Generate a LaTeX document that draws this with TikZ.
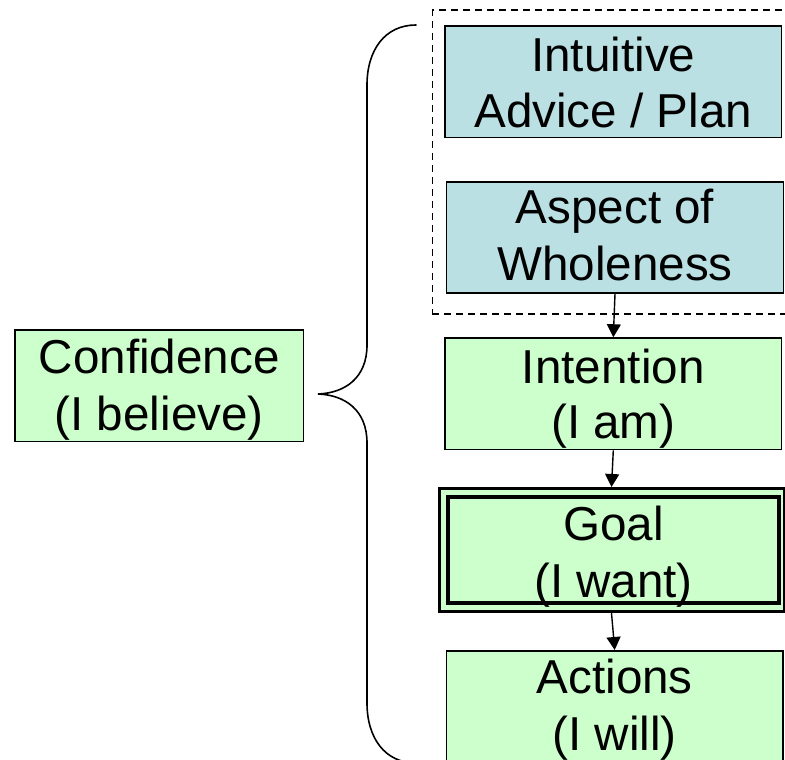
\documentclass[tikz,border=0pt]{standalone}
\usepackage{fontspec}
\setmainfont{Liberation Sans}
\usetikzlibrary{arrows.meta}
\definecolor{bluefill}{HTML}{BBE0E3}
\definecolor{greenfill}{HTML}{CCFFCC}
\tikzset{
  boxbase/.style={draw=black, line width=1.6pt, inner sep=0pt, rectangle},
  bluebox/.style={boxbase, fill=bluefill, minimum width=336.7pt, minimum height=111.5pt},
  greenbox/.style={boxbase, fill=greenfill, minimum width=336.7pt, minimum height=111.5pt},
  txt/.style={inner sep=0pt, anchor=base, font=\fontsize{47.6}{55}\selectfont},
  arr/.style={line width=1.4pt, -{Triangle[length=13pt,width=14pt]}},
  grpbox/.style={draw=black, line width=1.8pt, dash pattern=on 7pt off 5pt, inner sep=0pt, rectangle},
  bracepath/.style={line width=1.6pt, line cap=round}
}
\begin{document}
\begin{tikzpicture}[x=1pt,y=-1pt]
\useasboundingbox (0,0) rectangle (785,760);
\clip (0,0) rectangle (785,760);
\fill[white] (0,0) rectangle (785,760);

% dashed group
\node[grpbox, minimum width=359pt, minimum height=303.5pt, anchor=north west] (grp) at (431.5,9.5) {};

% boxes
\node[bluebox] (intu) at (613.3,81.7) {};
\node[bluebox] (aspect) at (615,237.5) {};
\node[greenbox] (intent) at (613.3,393.8) {};
\node[boxbase, fill=greenfill, line width=3pt, minimum width=345pt, minimum height=123pt] (goal) at (611.5,550) {};
\node[boxbase, line width=4pt, minimum width=331pt, minimum height=106pt] (goalin) at (613.5,550) {};
\node[greenbox, minimum height=120pt, anchor=north] (actions) at (614.7,650) {};
\node[boxbase, fill=greenfill, minimum width=288.3pt, minimum height=111.7pt] (conf) at (159.2,385.8) {};

% texts
\node[txt] (t1) at (613.3,72) {Intuitive};
\node[txt] (t2) at (613.3,128) {Advice / Plan};
\node[txt] (t3) at (615,223) {Aspect of};
\node[txt] (t4) at (615,280) {Wholeness};
\node[txt] (t5) at (613.3,383) {Intention};
\node[txt] (t6) at (613.3,438) {(I am)};
\node[txt] (t7) at (613.5,540) {Goal};
\node[txt] (t8) at (613.5,597) {(I want)};
\node[txt] (t9) at (614.7,693) {Actions};
\node[txt] (t10) at (614.7,750) {(I will)};
\node[txt] (t11) at (159.2,373) {Confidence};
\node[txt] (t12) at (159.2,430) {(I believe)};

% arrows
\draw[arr] (aspect.south) -- (intent.north);
\draw[arr] (intent.south) -- (goal.north);
\draw[arr] (goal.south) -- (actions.north);

% brace
\coordinate (btop) at (416,25);
\coordinate (btip) at (318,394);
\coordinate (bbot) at (416,763);
\draw[bracepath] (btop) .. controls (385,25) and (367,50) .. (367,85)
  -- (367,345) .. controls (367,378) and (345,393) .. (btip)
  .. controls (345,395) and (367,410) .. (367,443)
  -- (367,703) .. controls (367,738) and (385,763) .. (bbot);
\end{tikzpicture}
\end{document}
